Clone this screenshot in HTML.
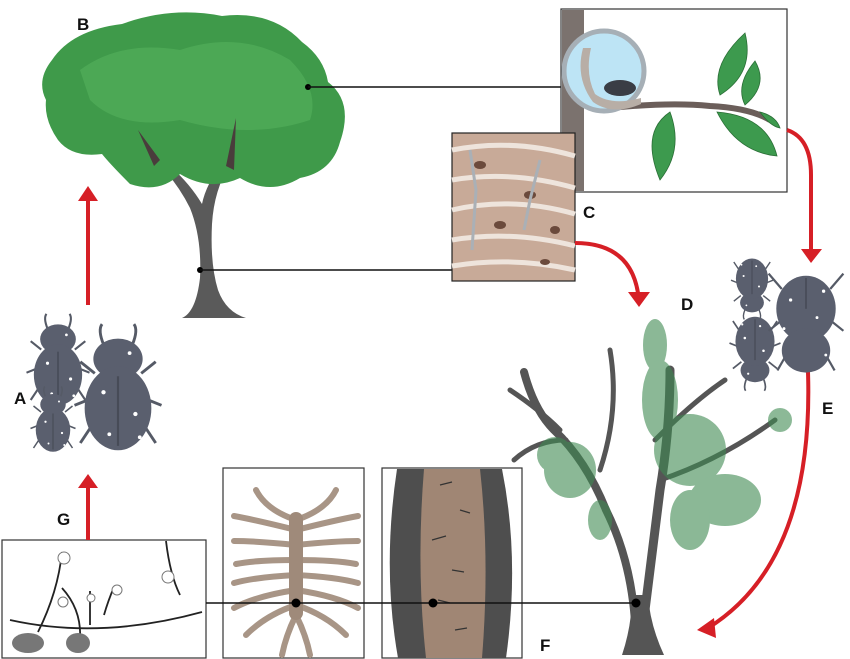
<!DOCTYPE html>
<html><head><meta charset="utf-8"><style>
html,body{margin:0;padding:0;background:#fff;width:850px;height:659px;overflow:hidden}
text{font-family:"Liberation Sans",sans-serif;font-weight:bold;font-size:17px;fill:#111}
</style></head><body>
<svg width="850" height="659" viewBox="0 0 850 659" xmlns="http://www.w3.org/2000/svg">
<defs>
<g id="beetle">
 <g stroke="#555a66" stroke-width="2" fill="none">
  <path d="M-10,-28 q-4,-10 -1,-14"/><path d="M10,-28 q4,-10 1,-14"/>
  <path d="M-16,-8 l-10,-8"/><path d="M16,-8 l10,-8"/>
  <path d="M-20,10 l-10,4"/><path d="M20,10 l10,4"/>
  <path d="M-18,28 l-8,12"/><path d="M18,28 l8,12"/>
 </g>
 <ellipse cx="0" cy="-18" rx="17" ry="14" fill="#5a5f6e"/>
 <ellipse cx="0" cy="16" rx="23" ry="29" fill="#5a5f6e"/>
 <path d="M0,-6 v48" stroke="#474b57" stroke-width="1.5"/>
 <g fill="#fff"><circle cx="-10" cy="5" r="1.5"/><circle cx="12" cy="20" r="1.5"/><circle cx="-6" cy="34" r="1.3"/><circle cx="8" cy="-22" r="1.3"/><circle cx="15" cy="36" r="1.3"/></g>
</g>
<g id="beetleE">
 <g stroke="#555a66" stroke-width="2" fill="none">
  <path d="M-22,-30 l-12,-14"/><path d="M22,-30 l12,-14"/>
  <path d="M-24,0 l-10,8"/><path d="M24,0 l10,8"/>
  <path d="M-18,30 l-8,14"/><path d="M18,30 l8,14"/>
 </g>
 <ellipse cx="0" cy="-12" rx="27" ry="30" fill="#5a5f6e"/>
 <ellipse cx="0" cy="26" rx="22" ry="20" fill="#5a5f6e"/>
 <path d="M0,-40 v28" stroke="#474b57" stroke-width="1.5"/>
 <g fill="#fff"><circle cx="-14" cy="-20" r="1.5"/><circle cx="16" cy="-28" r="1.5"/><circle cx="10" cy="-4" r="1.3"/><circle cx="-20" cy="6" r="1.3"/><circle cx="18" cy="30" r="1.3"/></g>
</g>
</defs>

<!-- Tree B -->
<path d="M182,318 q14,-6 18,-40 q2,-40 -10,-70 q-10,-20 -24,-36 l6,-4 q18,16 30,36 q4,-20 22,-44 l6,4 q-16,26 -18,60 q-2,40 6,66 q8,22 28,28z" fill="#5a5a5a"/>
<path d="M52,60 q20,-30 70,-36 q50,-18 100,-8 q50,-6 80,26 q22,16 26,40 q26,20 12,60 q-8,30 -40,36 q-30,18 -60,0 q-30,14 -60,-4 q-20,20 -50,10 q-20,-20 -28,-30 q-30,4 -44,-14 q-14,-20 -12,-40 q-10,-20 6,-40z" fill="#3f9a4a"/>
<path d="M80,70 q40,-30 100,-20 q60,-20 110,10 q30,30 20,60 q-60,20 -130,0 q-60,10 -90,-20z" fill="#55b25e" opacity=".6"/>
<path d="M138,130 l16,36 l6,-6 z M236,118 l-10,48 l8,4 z" fill="#4a3c3c"/>
<circle cx="308" cy="87" r="3" fill="#000"/>
<line x1="308" y1="87" x2="561" y2="87" stroke="#111" stroke-width="1.5"/>
<circle cx="200" cy="270" r="3" fill="#000"/>
<line x1="200" y1="270" x2="452" y2="270" stroke="#111" stroke-width="1.5"/>
<text x="77" y="30">B</text>

<!-- Arrow A->B -->
<line x1="88" y1="305" x2="88" y2="200" stroke="#d61f26" stroke-width="4"/>
<path d="M78,201 L88,186 L98,201z" fill="#d61f26"/>

<!-- Beetles A -->
<use href="#beetle" transform="translate(58,358) scale(1.05)"/>
<use href="#beetle" transform="translate(118,385) scale(1.45)"/>
<use href="#beetle" transform="translate(53,418) scale(0.75)"/>
<text x="14" y="404">A</text>

<!-- Branch box -->
<rect x="561" y="9" width="226" height="183" fill="#fff" stroke="#333" stroke-width="1.2"/>
<rect x="562" y="10" width="22" height="181" fill="#7b726e"/>
<path d="M610,108 q60,-6 100,-2 q40,2 60,14" stroke="#6b5e5a" stroke-width="6" fill="none"/>
<path d="M720,95 q-10,-30 25,-62 q10,40 -25,62z M745,105 q-10,-20 10,-44 q14,24 -10,44z M670,112 q-30,20 -10,68 q24,-30 10,-68z M717,112 q20,40 60,44 q-10,-40 -60,-44z M760,112 q10,14 20,16 q-4,-12 -20,-16z" fill="#3d9a4e" stroke="#2a6e36" stroke-width=".8"/>
<circle cx="604" cy="71" r="40" fill="#bde4f5" stroke="#a6afb6" stroke-width="5"/>
<path d="M583,48 q-8,30 10,54 q20,14 48,2 v-6 q-30,8 -46,-4 q-10,-20 -4,-46z" fill="#b8aea6"/>
<ellipse cx="620" cy="88" rx="16" ry="8" fill="#3a3d45"/>

<!-- Fiber box -->
<rect x="452" y="133" width="123" height="148" fill="#c8aa98" stroke="#222" stroke-width="1.2"/>
<g stroke="#eee4dc" stroke-width="5" fill="none">
<path d="M452,150 q60,-12 123,6"/><path d="M452,180 q60,-10 123,8"/><path d="M452,210 q60,-14 123,4"/><path d="M452,240 q60,-10 123,6"/><path d="M452,266 q60,-10 123,4"/>
</g>
<g fill="#6b4a3c"><ellipse cx="480" cy="165" rx="6" ry="4"/><ellipse cx="530" cy="195" rx="6" ry="4"/><ellipse cx="555" cy="230" rx="5" ry="4"/><ellipse cx="500" cy="225" rx="6" ry="4"/><ellipse cx="545" cy="262" rx="5" ry="3"/></g>
<path d="M470,150 l6,40 l-4,60" stroke="#aab0b6" stroke-width="3" fill="none"/>
<path d="M540,160 l-10,40 l-6,30" stroke="#aab0b6" stroke-width="3" fill="none"/>
<text x="583" y="218">C</text>

<!-- Red arrows -->
<path d="M575,243 q55,0 63,50" stroke="#d61f26" stroke-width="4" fill="none"/>
<path d="M628,292 L639,307 L650,292z" fill="#d61f26"/>
<path d="M787,130 q24,8 24,45 v78" stroke="#d61f26" stroke-width="4" fill="none"/>
<path d="M801,249 L811,263 L822,249z" fill="#d61f26"/>
<path d="M808,372 q6,190 -100,256" stroke="#d61f26" stroke-width="4" fill="none"/>
<path d="M714,618 L697,630 L716,638z" fill="#d61f26"/>

<!-- Beetles E -->
<use href="#beetle" transform="translate(752,290) scale(0.7) rotate(180)"/>
<use href="#beetle" transform="translate(755,355) scale(0.85) rotate(180)"/>
<use href="#beetleE" transform="translate(806,322) scale(1.1)"/>
<text x="822" y="414">E</text>

<!-- Tree D -->
<g stroke="#555" fill="none" stroke-linecap="round">
<path d="M636,650 q0,-80 -30,-140 q-20,-50 -52,-80 q-20,-20 -30,-58" stroke-width="8"/>
<path d="M640,650 q10,-80 20,-160 q10,-60 10,-120" stroke-width="9"/>
<path d="M560,430 q-20,-20 -50,-40" stroke-width="5"/>
<path d="M566,440 q-30,0 -52,20" stroke-width="5"/>
<path d="M600,470 q20,-60 10,-120" stroke-width="5"/>
<path d="M655,440 q40,-40 70,-60" stroke-width="5"/>
<path d="M660,480 q60,-20 115,-60" stroke-width="5"/>
</g>
<path d="M622,655 q10,-30 10,-60 h16 q2,30 16,60z" fill="#555"/>
<g fill="#3f8a52" opacity=".6">
<ellipse cx="655" cy="345" rx="12" ry="26"/><ellipse cx="660" cy="400" rx="18" ry="40"/><ellipse cx="690" cy="450" rx="36" ry="36"/><ellipse cx="725" cy="500" rx="36" ry="26"/><ellipse cx="690" cy="520" rx="20" ry="30"/><ellipse cx="570" cy="470" rx="26" ry="28"/><ellipse cx="555" cy="455" rx="18" ry="18"/><ellipse cx="600" cy="520" rx="12" ry="20"/><ellipse cx="780" cy="420" rx="12" ry="12"/>
</g>
<text x="681" y="310">D</text>

<!-- Bottom boxes -->
<rect x="2" y="540" width="204" height="118" fill="#fff" stroke="#333" stroke-width="1.2"/>
<g stroke="#222" stroke-width="1.8" fill="none">
<path d="M38,632 q20,-40 24,-80"/><path d="M80,640 q2,-30 -18,-52"/><path d="M90,625 v-34"/><path d="M104,615 q4,-14 10,-28"/><path d="M180,595 q-10,-20 -14,-54"/>
<path d="M10,620 q90,20 192,-8"/>
</g>
<g fill="#fff" stroke="#777"><circle cx="64" cy="558" r="6"/><circle cx="63" cy="602" r="5"/><circle cx="91" cy="598" r="4"/><circle cx="117" cy="590" r="5"/><circle cx="168" cy="577" r="6"/></g>
<ellipse cx="28" cy="643" rx="16" ry="10" fill="#777"/><ellipse cx="78" cy="643" rx="12" ry="10" fill="#777"/>
<text x="57" y="525">G</text>
<line x1="88" y1="540" x2="88" y2="488" stroke="#d61f26" stroke-width="4"/>
<path d="M78,488 L88,474 L98,488z" fill="#d61f26"/>

<rect x="223" y="468" width="141" height="190" fill="#fff" stroke="#333" stroke-width="1.2"/>
<g stroke="#a89586" stroke-width="6" fill="none" stroke-linecap="round">
<path d="M296,520 q-30,-10 -40,-30"/><path d="M296,530 q-40,-10 -62,-14"/><path d="M296,545 q-40,-4 -62,-4"/><path d="M296,560 q-40,0 -60,4"/><path d="M296,575 q-40,2 -62,8"/><path d="M296,590 q-40,6 -62,18"/><path d="M296,605 q-30,10 -50,30"/><path d="M296,615 q-10,20 -14,40"/>
<path d="M296,520 q30,-10 40,-30"/><path d="M296,530 q40,-10 62,-14"/><path d="M296,545 q40,-4 62,-4"/><path d="M296,560 q40,0 60,4"/><path d="M296,575 q40,2 62,8"/><path d="M296,590 q40,6 62,18"/><path d="M296,605 q30,10 50,30"/><path d="M296,615 q10,20 14,40"/>
</g>
<rect x="289" y="512" width="14" height="108" rx="7" fill="#9f8a7a"/>

<rect x="382" y="468" width="140" height="190" fill="#fff" stroke="#333" stroke-width="1.2"/>
<path d="M397,469 h105 q18,90 4,189 h-108 q-16,-90 -1,-189z" fill="#4e4e4e"/>
<path d="M424,469 h56 q10,90 2,189 h-56 q-10,-90 -2,-189z" fill="#a08674"/>
<g stroke="#333" stroke-width="1.2" fill="none"><path d="M440,485 l12,-3"/><path d="M460,510 l10,3"/><path d="M432,540 l14,-4"/><path d="M452,570 l12,2"/><path d="M438,600 l12,3"/><path d="M455,630 l12,-2"/></g>

<line x1="206" y1="603" x2="636" y2="603" stroke="#111" stroke-width="1.5"/>
<circle cx="296" cy="603" r="4.5" fill="#000"/>
<circle cx="433" cy="603" r="4.5" fill="#000"/>
<circle cx="636" cy="603" r="4.5" fill="#000"/>
<text x="540" y="651">F</text>
</svg>
</body></html>
